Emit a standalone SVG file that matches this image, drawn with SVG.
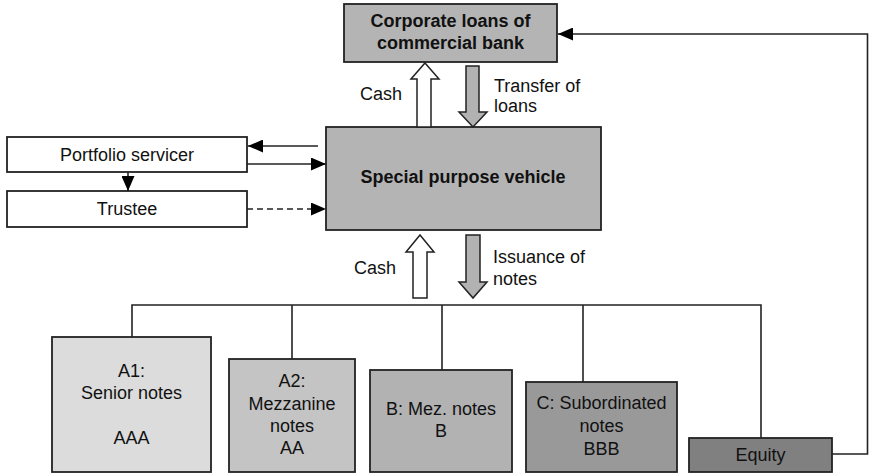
<svg xmlns="http://www.w3.org/2000/svg" width="869" height="475" viewBox="0 0 869 475">
  <style>
    .box { stroke: #222; stroke-width: 1.8; }
    .lbl { font-family: "Liberation Sans", Arial, sans-serif; font-size: 18px; fill: #111; text-anchor: middle; }
    .side { font-family: "Liberation Sans", Arial, sans-serif; font-size: 18px; fill: #111; }
    .bold { font-weight: bold; }
    .line { fill: none; stroke: #222; stroke-width: 1.6; }
    .dash { stroke-dasharray: 6 4; }
    .hollow { fill: #fff; stroke: #222; stroke-width: 1.5; }
    .solidarrow { fill: #b2b2b2; stroke: #222; stroke-width: 1.5; }
  </style>
  <defs>
    <marker id="head" viewBox="0 0 15 13" refX="15" refY="6.5" markerWidth="15" markerHeight="13" markerUnits="userSpaceOnUse" orient="auto">
      <path d="M0,0 L15,6.5 L0,13 Z" fill="#000"/>
    </marker>
  </defs>

  <rect width="869" height="475" fill="#fff"/>

  <!-- top: bank loans -->
  <g id="bank">
    <rect class="box" x="344" y="4" width="213" height="58" fill="#b4b4b4"/>
    <text class="lbl bold" x="450.5" y="27">Corporate loans of</text>
    <text class="lbl bold" x="450.5" y="49">commercial bank</text>
  </g>

  <!-- centre: SPV -->
  <g id="spv">
    <rect class="box" x="326" y="127" width="275" height="103" fill="#b4b4b4"/>
    <text class="lbl bold" x="463" y="183">Special purpose vehicle</text>
  </g>

  <!-- left side parties -->
  <g id="servicer">
    <rect class="box" x="7" y="137" width="240" height="35" fill="#fff"/>
    <text class="lbl" x="127" y="161">Portfolio servicer</text>
  </g>
  <g id="trustee">
    <rect class="box" x="7" y="191" width="240" height="36" fill="#fff"/>
    <text class="lbl" x="127" y="215">Trustee</text>
  </g>

  <!-- note tranches -->
  <g id="a1">
    <rect class="box" x="52" y="337" width="159" height="135" fill="#dcdcdc"/>
    <text class="lbl" x="131.5" y="377">A1:</text>
    <text class="lbl" x="131.5" y="399">Senior notes</text>
    <text class="lbl" x="131.5" y="444">AAA</text>
  </g>
  <g id="a2">
    <rect class="box" x="229" y="359" width="126" height="113" fill="#c4c4c4"/>
    <text class="lbl" x="292" y="387">A2:</text>
    <text class="lbl" x="292" y="410">Mezzanine</text>
    <text class="lbl" x="292" y="432">notes</text>
    <text class="lbl" x="292" y="454">AA</text>
  </g>
  <g id="b">
    <rect class="box" x="370" y="370" width="142" height="102" fill="#b2b2b2"/>
    <text class="lbl" x="441" y="415">B: Mez. notes</text>
    <text class="lbl" x="441" y="437">B</text>
  </g>
  <g id="c">
    <rect class="box" x="526" y="382" width="151" height="90" fill="#999999"/>
    <text class="lbl" x="601.5" y="409">C: Subordinated</text>
    <text class="lbl" x="601.5" y="432">notes</text>
    <text class="lbl" x="601.5" y="455">BBB</text>
  </g>
  <g id="equity">
    <rect class="box" x="689" y="438" width="143" height="34" fill="#808080"/>
    <text class="lbl" x="760.5" y="461">Equity</text>
  </g>

  <!-- connectors -->
  <g id="connectors">
    <!-- cash and loan flows between bank and SPV -->
    <path class="hollow" d="M425,63 L439,79 L431,79 L431,127 L417,127 L417,79 L411,79 Z"/>
    <path class="solidarrow" d="M466,66 L479,66 L479,112 L487,112 L473,127 L459,112 L466,112 Z"/>
    <text class="side" x="360" y="100">Cash</text>
    <text class="side" x="494" y="92">Transfer of</text>
    <text class="side" x="494" y="112">loans</text>

    <!-- cash and note flows between SPV and investors -->
    <path class="hollow" d="M420,235 L434,252 L427,252 L427,298 L413,298 L413,252 L406,252 Z"/>
    <path class="solidarrow" d="M466,235 L480,235 L480,282 L487,282 L473,298 L459,282 L466,282 Z"/>
    <text class="side" x="354" y="274">Cash</text>
    <text class="side" x="493" y="263">Issuance of</text>
    <text class="side" x="493" y="285">notes</text>

    <!-- servicer / trustee links -->
    <line class="line" x1="318" y1="146" x2="248" y2="146" marker-end="url(#head)"/>
    <line class="line" x1="247" y1="164" x2="326" y2="164" marker-end="url(#head)"/>
    <line class="line dash" x1="247" y1="209" x2="326" y2="209" marker-end="url(#head)"/>
    <line class="line" x1="128" y1="172" x2="128" y2="191" marker-end="url(#head)"/>

    <!-- distribution bus to tranches -->
    <path class="line" d="M132,337 L132,305 L761,305 L761,438"/>
    <line class="line" x1="292" y1="305" x2="292" y2="359"/>
    <line class="line" x1="442" y1="305" x2="442" y2="370"/>
    <line class="line" x1="583" y1="305" x2="583" y2="382"/>

    <!-- equity back to the bank -->
    <path class="line" d="M832,454 L867.5,454 L867.5,34 L558,34" marker-end="url(#head)"/>
  </g>
</svg>
